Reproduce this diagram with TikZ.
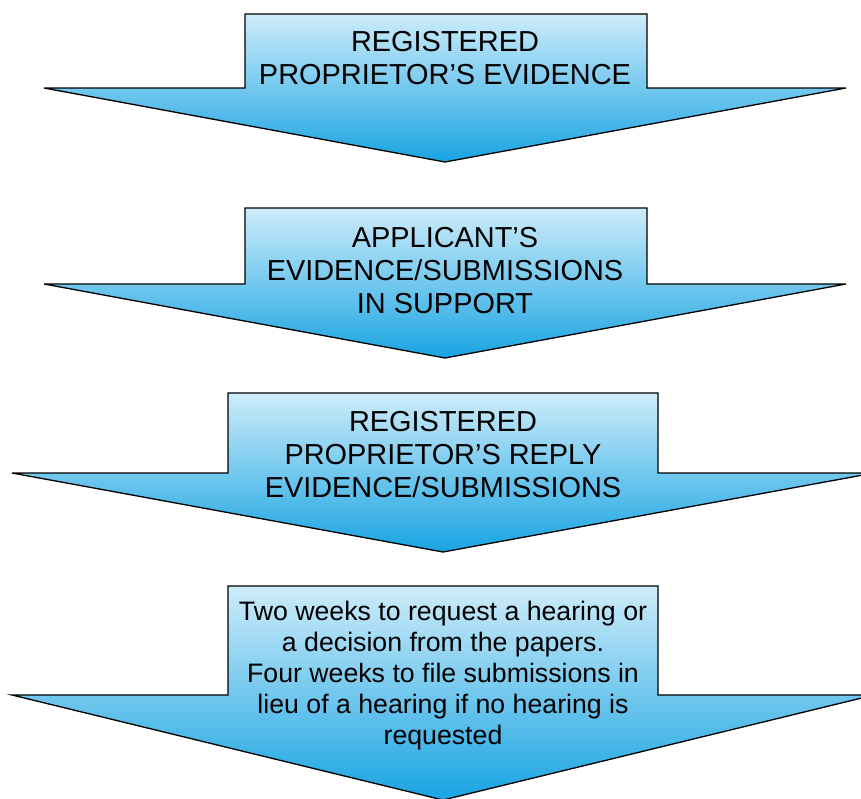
\documentclass[tikz,border=0pt]{standalone}
\usepackage{fontspec}
\setmainfont{Liberation Sans}
\definecolor{arrowtop}{RGB}{206,236,250}
\definecolor{arrowbot}{RGB}{24,164,226}
\tikzset{
  stagearrow/.style={draw=black, line width=1.3pt, line join=miter, top color=arrowtop, bottom color=arrowbot},
  stagetext/.style={align=center, inner sep=0pt, font=\fontsize{28.9}{33}\selectfont},
  smalltext/.style={align=center, inner sep=0pt, font=\fontsize{26.7}{31}\selectfont}
}
\begin{document}
\begin{tikzpicture}[x=1pt,y=-1pt]
\useasboundingbox (0,0) rectangle (861,798);

% Stage 1
\draw[stagearrow] (245,14) -- (647,14) -- (647,88) -- (846,88) -- (445,162) -- (44,88) -- (245,88) -- cycle;
\node[stagetext] (evid) at (445,58) {REGISTERED\\PROPRIETOR’S EVIDENCE};

% Stage 2
\draw[stagearrow] (245,208) -- (647,208) -- (647,284) -- (846,284) -- (445,358) -- (44,284) -- (245,284) -- cycle;
\node[stagetext] (appl) at (445,271) {APPLICANT’S\\EVIDENCE/SUBMISSIONS\\IN SUPPORT};

% Stage 3
\draw[stagearrow] (228,393) -- (658,393) -- (658,473) -- (874,473) -- (443,552) -- (12,473) -- (228,473) -- cycle;
\node[stagetext] (reply) at (443,455) {REGISTERED\\PROPRIETOR’S REPLY\\EVIDENCE/SUBMISSIONS};

% Stage 4
\draw[stagearrow] (228,586) -- (658,586) -- (658,695) -- (874,695) -- (443,800) -- (12,695) -- (228,695) -- cycle;
\node[smalltext] (hear) at (443,676) {Two weeks to request a hearing or\\a decision from the papers.\\Four weeks to file submissions in\\lieu of a hearing if no hearing is\\requested};

\end{tikzpicture}
\end{document}
